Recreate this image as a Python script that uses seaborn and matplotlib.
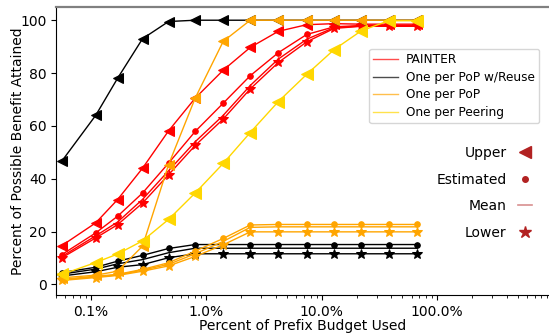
import matplotlib
matplotlib.use("Agg")
import matplotlib.pyplot as plt
import seaborn as sns
import numpy as np
import pandas as pd
from matplotlib.lines import Line2D
from matplotlib.ticker import FuncFormatter

# Percent of prefix budget used (x positions)
budget = [0.056, 0.11, 0.17, 0.28, 0.47, 0.8, 1.4, 2.4, 4.2, 7.4, 12.8, 22, 38, 67]

# PAINTER
painter_upper = [14.7, 23.3, 32.1, 44.0, 58.1, 70.5, 81.1, 89.7, 95.8, 98.3, 98.7, 98.5, 98.5, 98.5]
painter_est = [11.3, 19.5, 25.8, 34.6, 45.9, 57.9, 68.6, 79.0, 87.7, 94.6, 97.5, 98.0, 98.0, 98.0]
painter_mean = [10.6, 18.4, 23.6, 32.2, 43.0, 54.0, 64.0, 75.3, 85.3, 92.8, 97.2, 97.8, 97.8, 97.8]
painter_lower = [10.1, 17.6, 22.6, 30.8, 41.5, 52.6, 62.6, 74.0, 84.0, 91.8, 96.9, 97.7, 97.7, 97.7]

# One per PoP w/Reuse
reuse_upper = [46.7, 64.0, 78.0, 93.0, 99.5, 100, 100, 100, 100, 100, 100, 100, 100, 100]
reuse_est = [4.5, 6.5, 8.8, 11.0, 13.6, 15.1, 15.1, 15.1, 15.1, 15.1, 15.1, 15.1, 15.1, 15.1]
reuse_mean = [3.9, 5.8, 7.8, 9.4, 12.0, 13.7, 13.7, 13.7, 13.7, 13.7, 13.7, 13.7, 13.7, 13.7]
reuse_lower = [3.2, 4.8, 6.5, 7.5, 10.1, 11.6, 11.6, 11.6, 11.6, 11.6, 11.6, 11.6, 11.6, 11.6]

# One per PoP
pop_upper = [2.5, 3.5, 5.0, 14.5, 45.3, 70.5, 92.0, 100, 100, 100, 100, 100, 100, 100]
pop_est = [1.9, 3.1, 3.8, 5.7, 8.2, 12.6, 17.4, 22.5, 22.7, 22.7, 22.7, 22.7, 22.7, 22.7]
pop_mean = [1.7, 2.9, 3.6, 5.4, 7.6, 11.6, 16.3, 21.6, 21.8, 21.8, 21.8, 21.8, 21.8, 21.8]
pop_lower = [1.5, 2.6, 3.4, 5.0, 7.0, 10.6, 15.0, 19.9, 19.9, 19.9, 19.9, 19.9, 19.9, 19.9]

# One per Peering
peer_upper = [3.8, 8.3, 11.5, 16.5, 24.6, 34.6, 45.8, 57.5, 69.2, 79.5, 88.9, 96.0, 99.8, 99.8]

strategies = ["PAINTER", "One per PoP w/Reuse", "One per PoP", "One per Peering"]
colors = ["red", "black", "orange", "gold"]
bound_labels = ["Upper", "Estimated", "Mean", "Lower"]

series = {
    "PAINTER": [painter_upper, painter_est, painter_mean, painter_lower],
    "One per PoP w/Reuse": [reuse_upper, reuse_est, reuse_mean, reuse_lower],
    "One per PoP": [pop_upper, pop_est, pop_mean, pop_lower],
    "One per Peering": [peer_upper],
}
markers = {"Upper": "<", "Estimated": "o", "Mean": None, "Lower": "*"}
msizes = {"Upper": 7, "Estimated": 4, "Mean": 0, "Lower": 7.5}

fig = plt.figure(figsize=(5.49, 3.33), dpi=100)
ax = fig.add_axes([56.2 / 549, 38 / 333, (549 - 56.2) / 549, 288 / 333])

for strat, col in zip(strategies, colors):
    for vals, bl in zip(series[strat], bound_labels):
        df = pd.DataFrame({"x": budget, "y": vals})
        kw = dict(color=col, linewidth=1.0, ax=ax, legend=False)
        if markers[bl] is not None:
            ms = msizes[bl] + (1.5 if strat == "One per Peering" else 0)
            kw.update(marker=markers[bl], markersize=ms,
                      markeredgecolor=col, markerfacecolor=col)
        sns.lineplot(data=df, x="x", y="y", **kw)

ax.set_xscale("log")
ax.set_xlim(0.05, 930)
ax.set_ylim(-4, 105)
ax.set_yticks([0, 20, 40, 60, 80, 100])
ax.xaxis.set_major_formatter(FuncFormatter(lambda v, p: f"{v:.1f}%"))
ax.tick_params(axis="both", labelsize=10)
ax.set_xlabel("Percent of Prefix Budget Used", fontsize=10)
ax.set_ylabel("Percent of Possible Benefit Attained", fontsize=10)
ax.xaxis.set_label_coords(0.5, -0.085, transform=ax.transAxes)
ax.xaxis.label.set_va("top")
ax.yaxis.set_label_coords(-0.063, 0.5)
ax.spines["top"].set_color("#808080")
ax.spines["top"].set_linewidth(1.6)
ax.spines["right"].set_visible(False)

h1 = [Line2D([0], [0], color=c, lw=1.0, alpha=0.7) for c in colors]
leg1 = ax.legend(h1, strategies, loc="upper left", bbox_to_anchor=(0.635, 0.854),
                 fontsize=8.7, frameon=True, handlelength=2.0, borderpad=0.35,
                 labelspacing=0.38, handletextpad=0.7, borderaxespad=0)
ax.add_artist(leg1)

bc = "firebrick"
h2 = [Line2D([0], [0], color=bc, lw=0, marker="<", markersize=8),
      Line2D([0], [0], color=bc, lw=0, marker="o", markersize=4),
      Line2D([0], [0], color=bc, lw=1.2, alpha=0.5),
      Line2D([0], [0], color=bc, lw=0, marker="*", markersize=9)]
leg2 = ax.legend(h2, bound_labels, loc="upper right", bbox_to_anchor=(0.99, 0.56),
                 fontsize=10, frameon=False, markerfirst=False, handlelength=1.0,
                 labelspacing=0.9, handletextpad=0.8)

fig.savefig("out.png", dpi=100)
